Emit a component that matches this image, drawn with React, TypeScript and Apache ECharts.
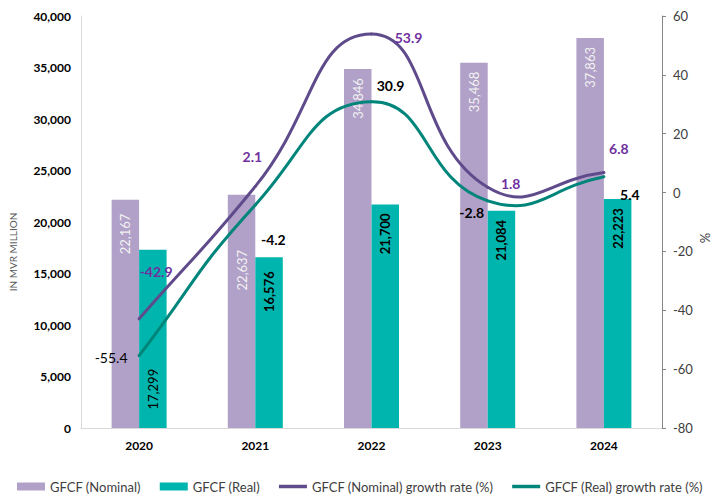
import React, { useEffect, useRef } from "react";
import * as echarts from "echarts";

const years = ["2020", "2021", "2022", "2023", "2024"];
const nominal = [22167, 22637, 34846, 35468, 37863];
const real = [17299, 16576, 21700, 21084, 22223];
const nominalGrowth = [-42.9, 2.1, 53.9, 1.8, 6.8];
const realGrowth = [-55.4, -4.2, 30.9, -2.8, 5.4];

const leftAxis = { min: 0, max: 40000, interval: 5000 };
const rightAxis = { min: -80, max: 60, interval: 20 };

// label placement tweaks (style only): extra downward shift of rotated bar labels
const nominalBarLabelShift = [5, 46, 0, 0, 0];
const realBarLabelShift = [110, 5, 0, 0, 0];
const realBarLabelWeight = ["normal", "bold", "bold", "bold", "bold"];
const nominalGrowthLabelOffsets = [[17, -47], [-3, -30], [37, 4], [23, -4], [15, -24]];
const realGrowthLabelOffsets = [[-28, 2], [18, 35], [19, -16], [-16, 12], [26, 18]];
const realGrowthLabelWeight = ["normal", "bold", "bold", "bold", "bold"];

const FONT = "Lato, 'Open Sans', sans-serif";
const C_NOM = "#B1A0C7";
const C_REAL = "#00B5AD";
const C_NOM_LINE = "#5F4B8B";
const C_REAL_LINE = "#00857A";
const SMOOTH = 0.5;

const fmt = (v: number) => v.toLocaleString("en-US");

// Smooth curve (Excel-like, unclamped) drawn segment by segment from the axis scales.
function makeCurveRenderer(values: number[], color: string) {
  return (params: any, api: any) => {
    const i = params.dataIndex;
    if (i >= values.length - 1) return null;
    const pts = values.map((v, k) => api.coord([k, v]));
    const cps = (k: number) => {
      const cur = pts[k];
      const prev = pts[k - 1] || cur;
      const next = pts[k + 1] || cur;
      const vx = next[0] - prev[0];
      const vy = next[1] - prev[1];
      const l0 = Math.hypot(cur[0] - prev[0], cur[1] - prev[1]);
      const l1 = Math.hypot(next[0] - cur[0], next[1] - cur[1]);
      const r = l0 + l1 > 0 ? l1 / (l0 + l1) : 0.5;
      return {
        nx: cur[0] + vx * SMOOTH * r,
        ny: cur[1] + vy * SMOOTH * r,
        px: cur[0] - vx * SMOOTH * (1 - r),
        py: cur[1] - vy * SMOOTH * (1 - r),
      };
    };
    const a = cps(i);
    const b = cps(i + 1);
    return {
      type: "bezierCurve",
      shape: {
        x1: pts[i][0],
        y1: pts[i][1],
        x2: pts[i + 1][0],
        y2: pts[i + 1][1],
        cpx1: a.nx,
        cpy1: a.ny,
        cpx2: b.px,
        cpy2: b.py,
      },
      style: { stroke: color, lineWidth: 3, fill: "none", lineCap: "round" },
    };
  };
}

export default function App() {
  const ref = useRef<HTMLDivElement>(null);
  useEffect(() => {
    if (!ref.current) return;
    const chart = echarts.init(ref.current, undefined, { renderer: "svg" });
    const barLabel = (color: string, weight: string) => ({
      show: true,
      position: "insideTop",
      rotate: 90,
      align: "right",
      verticalAlign: "middle",
      distance: 9,
      color,
      fontWeight: weight,
      fontSize: 13,
      fontFamily: FONT,
      formatter: (p: any) => fmt(p.value),
    });
    const lineIcon = "path://M0,0 L28,0 L28,3.5 L0,3.5 Z";
    const option: any = {
      animation: false,
      textStyle: { fontFamily: FONT },
      grid: { left: 81, right: 50, top: 16, bottom: 70 },
      legend: {
        left: 17,
        top: 480,
        width: 695,
        padding: 0,
        itemGap: 19,
        itemWidth: 28,
        itemHeight: 8,
        textStyle: { fontSize: 13, color: "#404040", fontFamily: FONT },
        data: [
          { name: "GFCF (Nominal)", icon: "rect" },
          { name: "GFCF (Real)", icon: "rect" },
          { name: "GFCF (Nominal) growth rate (%)", icon: lineIcon },
          { name: "GFCF (Real) growth rate (%)", icon: lineIcon },
        ],
      },
      xAxis: {
        type: "category",
        data: years,
        axisLine: { lineStyle: { color: "#D9D9D9", width: 1 } },
        axisTick: { show: false },
        axisLabel: { fontWeight: "bold", fontSize: 12, color: "#000", margin: 11, fontFamily: FONT },
      },
      yAxis: [
        {
          type: "value",
          ...leftAxis,
          axisLine: { show: true, lineStyle: { color: "#D9D9D9" } },
          axisTick: { show: false },
          splitLine: { show: false },
          axisLabel: {
            fontWeight: "bold",
            fontSize: 12,
            color: "#000",
            margin: 10,
            fontFamily: FONT,
            formatter: (v: number) => fmt(v),
          },
        },
        {
          type: "value",
          position: "right",
          ...rightAxis,
          axisLine: { show: true, lineStyle: { color: "#868686" } },
          axisTick: { show: true, length: 4, lineStyle: { color: "#868686" } },
          splitLine: { show: false },
          axisLabel: { fontSize: 13, color: "#404040", margin: 11, fontFamily: FONT },
        },
      ],
      graphic: [
        {
          type: "text",
          x: 13,
          y: 252,
          rotation: Math.PI / 2,
          style: {
            text: "IN MVR MILLION",
            align: "center",
            verticalAlign: "middle",
            fontSize: 10,
            fill: "#595959",
            fontFamily: FONT,
          },
        },
        {
          type: "text",
          x: 705,
          y: 238,
          rotation: Math.PI / 2,
          style: {
            text: "%",
            align: "center",
            verticalAlign: "middle",
            fontSize: 13,
            fill: "#404040",
            fontFamily: FONT,
          },
        },
      ],
      series: [
        {
          name: "GFCF (Nominal)",
          type: "bar",
          yAxisIndex: 0,
          barWidth: 27.5,
          barGap: "0%",
          itemStyle: { color: C_NOM },
          label: barLabel("#F2F2F2", "normal"),
          data: nominal.map((v, i) => ({ value: v, label: { offset: [-nominalBarLabelShift[i], 0] } })),
          z: 1,
        },
        {
          name: "GFCF (Real)",
          type: "bar",
          yAxisIndex: 0,
          barWidth: 27.5,
          barGap: "0%",
          itemStyle: { color: C_REAL },
          label: barLabel("#000000", "bold"),
          data: real.map((v, i) => ({
            value: v,
            label: { offset: [-realBarLabelShift[i], 0], fontWeight: realBarLabelWeight[i] },
          })),
          z: 1,
        },
        {
          type: "custom",
          yAxisIndex: 1,
          renderItem: makeCurveRenderer(nominalGrowth, C_NOM_LINE),
          data: nominalGrowth.map((v, i) => [i, v]),
          z: 3,
          silent: true,
        },
        {
          type: "custom",
          yAxisIndex: 1,
          renderItem: makeCurveRenderer(realGrowth, C_REAL_LINE),
          data: realGrowth.map((v, i) => [i, v]),
          z: 3,
          silent: true,
        },
        {
          name: "GFCF (Nominal) growth rate (%)",
          type: "line",
          yAxisIndex: 1,
          symbol: "circle",
          symbolSize: 1,
          itemStyle: { color: C_NOM_LINE },
          lineStyle: { color: C_NOM_LINE, width: 3, opacity: 0 },
          label: {
            show: true,
            position: "inside",
            color: "#7030A0",
            fontWeight: "bold",
            fontSize: 14,
            fontFamily: FONT,
          },
          data: nominalGrowth.map((v, i) => ({ value: v, label: { offset: nominalGrowthLabelOffsets[i] } })),
          z: 4,
        },
        {
          name: "GFCF (Real) growth rate (%)",
          type: "line",
          yAxisIndex: 1,
          symbol: "circle",
          symbolSize: 1,
          itemStyle: { color: C_REAL_LINE },
          lineStyle: { color: C_REAL_LINE, width: 3, opacity: 0 },
          label: {
            show: true,
            position: "inside",
            color: "#000000",
            fontWeight: "bold",
            fontSize: 14,
            fontFamily: FONT,
          },
          data: realGrowth.map((v, i) => ({
            value: v,
            label: { offset: realGrowthLabelOffsets[i], fontWeight: realGrowthLabelWeight[i] },
          })),
          z: 4,
        },
      ],
    };
    chart.setOption(option);
    return () => chart.dispose();
  }, []);
  return <div ref={ref} style={{ position: "absolute", left: 0, top: 0, width: 712, height: 498 }} />;
}
